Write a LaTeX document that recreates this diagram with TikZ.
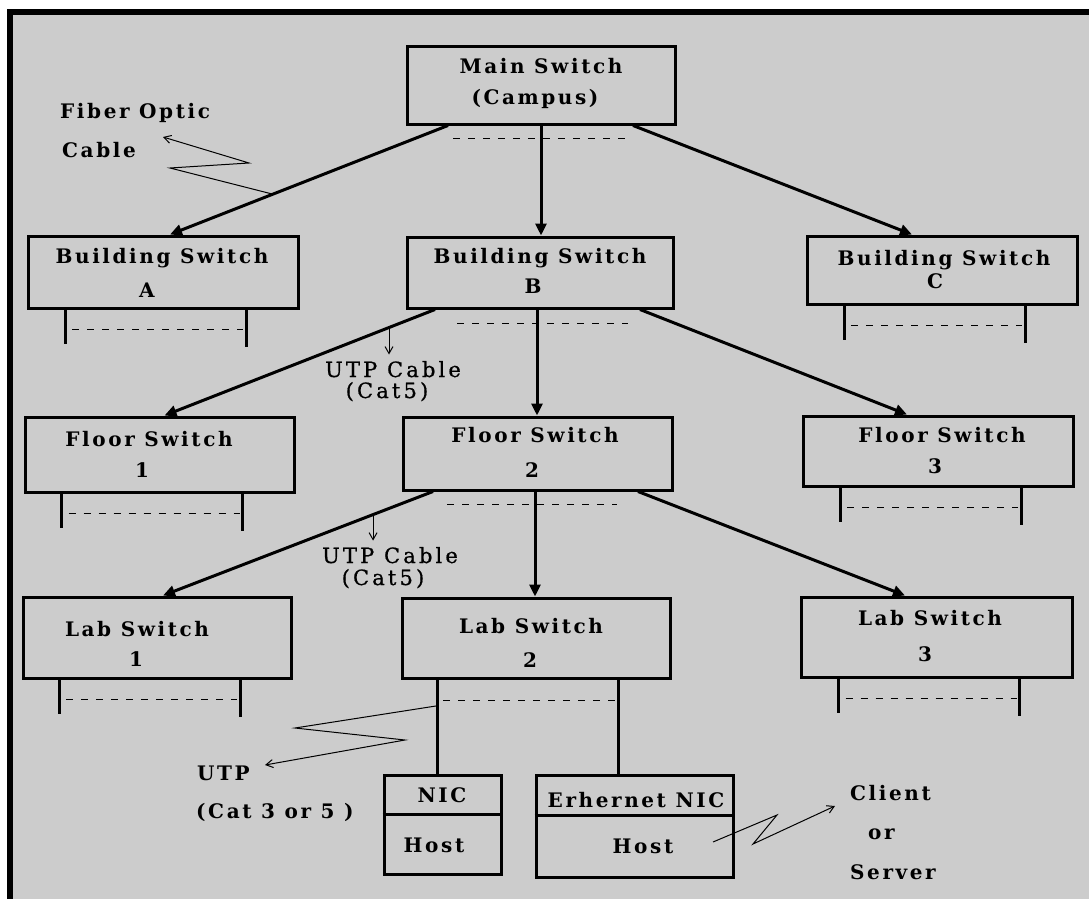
\documentclass[tikz,border=0pt]{standalone}
\usepackage{fontspec}
\setmainfont{DejaVu Serif}
\newfontfamily\lblfont{DejaVu Serif}[LetterSpace=13]
\newfontfamily\cblfont{DejaVu Serif}[LetterSpace=15,FakeBold=0.8]
\usetikzlibrary{arrows.meta,calc}
\definecolor{panel}{HTML}{CCCCCC}

% two port legs with a dashed bus between them, hanging under a switch box
\newcommand\portbar[1]{%
  \draw[port] ([xshift=-98pt]#1.south) -- ++(0,34);
  \draw[port] ([xshift=83pt]#1.south) -- ++(0,37);
  \draw[bus] ([xshift=-91pt,yshift=-20pt]#1.south) -- ([xshift=80pt,yshift=-20pt]#1.south);
}

\begin{document}
\begin{tikzpicture}[x=1pt,y=-1pt,
  box/.style={draw, line width=3pt, inner sep=0pt},
  lbl/.style={font=\lblfont\bfseries\fontsize{20}{20}\selectfont, inner sep=0pt, anchor=base},
  cbl/.style={font=\cblfont\fontsize{21}{21}\selectfont, inner sep=0pt, anchor=base},
  link/.style={line width=3pt, -{Triangle[length=12pt,width=11pt]}},
  port/.style={line width=3pt},
  bus/.style={line width=1.2pt, dash pattern=on 7pt off 8pt},
  note/.style={line width=1pt, -{Straight Barb[length=7pt,width=8pt]}},
]
% frame
\fill[white] (0,0) rectangle (1089,899);
\fill[black] (7,9) rectangle (1089,899);
\fill[panel] (13,15) rectangle (1089,899);
\useasboundingbox (0,0) rectangle (1089,899);

% switch boxes
\node[box, minimum width=268pt, minimum height=77pt] (main) at (541,85.5) {};
\node[box, minimum width=270pt, minimum height=72pt] (bA) at (163,272) {};
\node[box, minimum width=266pt, minimum height=71pt] (bB) at (540,272.5) {};
\node[box, minimum width=270pt, minimum height=68pt] (bC) at (942,270) {};
\node[box, minimum width=269pt, minimum height=75pt] (bF1) at (159.5,454.5) {};
\node[box, minimum width=269pt, minimum height=73pt] (bF2) at (537.5,453.5) {};
\node[box, minimum width=270pt, minimum height=70pt] (bF3) at (938,451) {};
\node[box, minimum width=268pt, minimum height=81pt] (bL1) at (157,637.5) {};
\node[box, minimum width=268pt, minimum height=80pt] (bL2) at (536,638) {};
\node[box, minimum width=271pt, minimum height=80pt] (bL3) at (936.5,637) {};
\node[box, minimum width=117pt, minimum height=99pt] (nic) at (442.5,824.5) {};
\node[box, minimum width=197pt, minimum height=102pt] (eth) at (634.5,826) {};
\draw[port] ([yshift=-41pt]nic.north west) -- ([yshift=-41pt]nic.north east);
\draw[port] ([yshift=-42pt]eth.north west) -- ([yshift=-42pt]eth.north east);

% box labels
\node[lbl] (tM1) at (541,74) {Main Switch};
\node[lbl] (tM2) at (535,104) {(Campus)};
\node[lbl] (tA1) at (162,263) {Building Switch};
\node[lbl] (tA2) at (147,297) {A};
\node[lbl] (tB1) at (540,263) {Building Switch};
\node[lbl] (tB2) at (533,293) {B};
\node[lbl] (tC1) at (944,265) {Building Switch};
\node[lbl] (tC2) at (935,288) {C};
\node[lbl] (tF11) at (149,446) {Floor Switch};
\node[lbl] (tF12) at (142,477) {1};
\node[lbl] (tF21) at (535,442) {Floor Switch};
\node[lbl] (tF22) at (532,477) {2};
\node[lbl] (tF31) at (942,442) {Floor Switch};
\node[lbl] (tF32) at (935,473) {3};
\node[lbl] (tL11) at (137,636) {Lab Switch};
\node[lbl] (tL12) at (136,666) {1};
\node[lbl] (tL21) at (531,633) {Lab Switch};
\node[lbl] (tL22) at (530,667) {2};
\node[lbl] (tL31) at (930,625) {Lab Switch};
\node[lbl] (tL32) at (925,661) {3};
\node[lbl] (tN1) at (442,802) {NIC};
\node[lbl] (tN2) at (434,852) {Host};
\node[lbl] (tE1) at (636,807) {Erhernet NIC};
\node[lbl] (tE2) at (643,853) {Host};

% free-standing notes
\node[lbl, anchor=base west] (fib1) at (60,118) {Fiber Optic};
\node[lbl, anchor=base west] (fib2) at (62,157) {Cable};
\node[cbl] (utpA1) at (393,377) {UTP Cable};
\node[cbl] (utpA2) at (387,398) {(Cat5)};
\node[cbl] (utpB1) at (390,563) {UTP Cable};
\node[cbl] (utpB2) at (383,585) {(Cat5)};
\node[lbl, anchor=base west] (utp1) at (197,780) {UTP};
\node[lbl, anchor=base west] (utp2) at (196,818) {(Cat 3 or 5 )};
\node[lbl, anchor=base west] (cl1) at (850,800) {Client};
\node[lbl, anchor=base west] (cl2) at (868,839) {or};
\node[lbl, anchor=base west] (cl3) at (850,879) {Server};

% ports and buses
\portbar{bA}
\portbar{bC}
\portbar{bF1}
\portbar{bF3}
\portbar{bL1}
\portbar{bL3}
\draw[bus] ([xshift=-88pt,yshift=-13pt]main.south) -- ([xshift=84pt,yshift=-13pt]main.south);
\draw[bus] ([xshift=-83pt,yshift=-14pt]bB.south) -- ([xshift=88pt,yshift=-14pt]bB.south);
\draw[bus] ([xshift=-90.5pt,yshift=-13pt]bF2.south) -- ([xshift=79.5pt,yshift=-13pt]bF2.south);
\draw[bus] ([xshift=-93pt,yshift=-21pt]bL2.south) -- ([xshift=79pt,yshift=-21pt]bL2.south);

% campus level
\draw[link] ([xshift=-93pt]main.south) -- coordinate[pos=0.63] (fo) ([xshift=7pt]bA.north);
\draw[link] (main.south) -- (main.south |- bB.north);
\draw[link] ([xshift=92pt]main.south) -- ([xshift=-30pt]bC.north);

% building level
\draw[link] ([xshift=-105pt]bB.south) -- coordinate[pos=0.17] (u1) ([xshift=5pt]bF1.north);
\draw[link] ([xshift=-3pt]bB.south) -- ([xshift=-3pt]bB.south |- bF2.north);
\draw[link] ([xshift=100pt]bB.south) -- ([xshift=-31pt]bF3.north);

% floor level
\draw[link] ([xshift=-104.5pt]bF2.south) -- coordinate[pos=0.222] (u2) ([xshift=6pt]bL1.north);
\draw[link] ([xshift=-2.5pt]bF2.south) -- ([xshift=-2.5pt]bF2.south |- bL2.north);
\draw[link] ([xshift=100.5pt]bF2.south) -- ([xshift=-31.5pt]bL3.north);

% lab level to hosts
\draw[port] ([xshift=-99pt]bL2.south) -- coordinate[pos=0.28] (z1) ([xshift=-99pt]bL2.south |- nic.north);
\draw[port] ([xshift=82pt]bL2.south) -- ([xshift=82pt]bL2.south |- eth.north);

% cable pointers
\draw[note] (fo) -- (170,168) -- (249,163) -- (163,137);
\draw[note] (u1) -- ++(0,27);
\draw[note] (u2) -- ++(0,26);
\draw[note] (z1) -- (295,728) -- (405,740) -- (265,765);
\coordinate (hs) at (713,842);
\draw[note] (hs) -- (777,815) -- (753,844) -- (835,806);
\end{tikzpicture}
\end{document}
